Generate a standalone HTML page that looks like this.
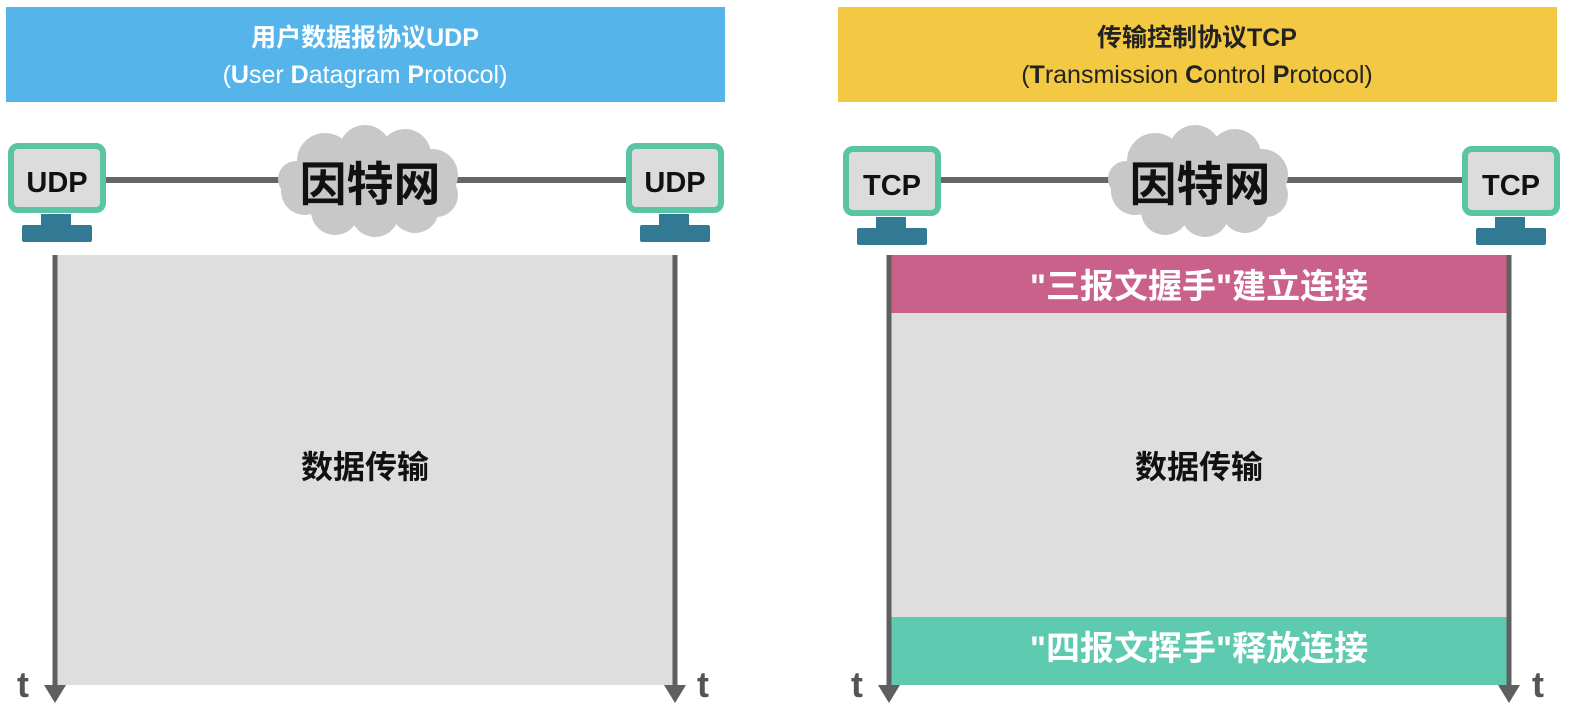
<!DOCTYPE html>
<html><head><meta charset="utf-8"><style>
html,body{margin:0;padding:0;background:#fff;}
svg{display:block;}
text{font-family:"Liberation Sans","Noto Sans CJK SC",sans-serif;}
</style></head><body>
<svg width="1594" height="710" viewBox="0 0 1594 710" xmlns="http://www.w3.org/2000/svg">
<defs>
<g id="cloud" fill="#c8c8c8">
  <ellipse cx="0" cy="0" rx="80" ry="40"/>
  <circle cx="-45" cy="-22" r="28"/>
  <circle cx="-5" cy="-32" r="26"/>
  <circle cx="35" cy="-28" r="26"/>
  <circle cx="62" cy="-8" r="26"/>
  <circle cx="-65" cy="8" r="24"/>
  <circle cx="-35" cy="28" r="24"/>
  <circle cx="5" cy="30" r="24"/>
  <circle cx="45" cy="26" r="24"/>
  <circle cx="66" cy="12" r="22"/>
  <circle cx="-74" cy="-4" r="18"/>
</g>
<g id="mon">
  <rect x="3" y="3" width="92" height="64" rx="7" fill="#dcdcdc" stroke="#5bc4a4" stroke-width="6"/>
  <rect x="33" y="71" width="30" height="12" fill="#327a94"/>
  <rect x="14" y="82" width="70" height="17" rx="2" fill="#327a94"/>
</g>
<g id="arr" fill="#5f5f5f">
  <rect x="-2.5" y="0" width="5" height="432"/>
  <polygon points="-11,430 11,430 0,448"/>
</g>
</defs>

<rect x="6" y="7" width="719" height="95" fill="#55b5ea"/>
<text x="365" y="46" font-size="25" font-weight="bold" fill="#fff" text-anchor="middle">用户数据报协议UDP</text>
<text x="365" y="83" font-size="25" fill="#fff" text-anchor="middle">(<tspan font-weight="bold">U</tspan>ser <tspan font-weight="bold">D</tspan>atagram <tspan font-weight="bold">P</tspan>rotocol)</text>

<rect x="838" y="7" width="719" height="95" fill="#f3c842"/>
<text x="1197" y="46" font-size="25" font-weight="bold" fill="#222" text-anchor="middle">传输控制协议TCP</text>
<text x="1197" y="83" font-size="25" fill="#222" text-anchor="middle">(<tspan font-weight="bold">T</tspan>ransmission <tspan font-weight="bold">C</tspan>ontrol <tspan font-weight="bold">P</tspan>rotocol)</text>

<rect x="100" y="177" width="530" height="6" fill="#666"/>
<use href="#cloud" x="370" y="183"/>
<text x="370" y="201" font-size="47" font-weight="bold" fill="#111" text-anchor="middle">因特网</text>
<use href="#mon" x="8" y="143"/>
<use href="#mon" x="626" y="143"/>
<text x="57" y="192" font-size="29" font-weight="bold" fill="#111" text-anchor="middle">UDP</text>
<text x="675" y="192" font-size="29" font-weight="bold" fill="#111" text-anchor="middle">UDP</text>

<rect x="935" y="177" width="530" height="6" fill="#666"/>
<use href="#cloud" x="1200" y="183"/>
<text x="1200" y="201" font-size="47" font-weight="bold" fill="#111" text-anchor="middle">因特网</text>
<use href="#mon" x="843" y="146"/>
<use href="#mon" x="1462" y="146"/>
<text x="892" y="195" font-size="29" font-weight="bold" fill="#111" text-anchor="middle">TCP</text>
<text x="1511" y="195" font-size="29" font-weight="bold" fill="#111" text-anchor="middle">TCP</text>

<rect x="55" y="255" width="620" height="430" fill="#dedede"/>
<text x="365" y="478" font-size="32" font-weight="bold" fill="#111" text-anchor="middle">数据传输</text>
<use href="#arr" x="55" y="255"/>
<use href="#arr" x="675" y="255"/>
<text x="23" y="697" font-size="36" font-weight="bold" fill="#555" text-anchor="middle">t</text>
<text x="703" y="697" font-size="36" font-weight="bold" fill="#555" text-anchor="middle">t</text>

<rect x="889" y="255" width="620" height="430" fill="#dedede"/>
<rect x="889" y="255" width="620" height="58" fill="#c9618a"/>
<rect x="889" y="617" width="620" height="68" fill="#5ecbb0"/>
<text x="1199" y="298" font-size="34" font-weight="bold" fill="#fff" text-anchor="middle">"三报文握手"建立连接</text>
<text x="1199" y="478" font-size="32" font-weight="bold" fill="#111" text-anchor="middle">数据传输</text>
<text x="1199" y="660" font-size="34" font-weight="bold" fill="#fff" text-anchor="middle">"四报文挥手"释放连接</text>
<use href="#arr" x="889" y="255"/>
<use href="#arr" x="1509" y="255"/>
<text x="857" y="697" font-size="36" font-weight="bold" fill="#555" text-anchor="middle">t</text>
<text x="1538" y="697" font-size="36" font-weight="bold" fill="#555" text-anchor="middle">t</text>
</svg>
</body></html>
